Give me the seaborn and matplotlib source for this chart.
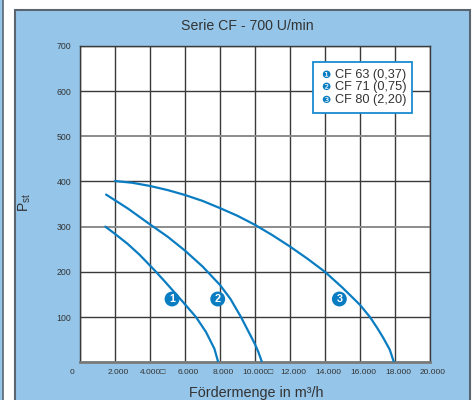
import numpy as np
import pandas as pd
import matplotlib
matplotlib.use('Agg')
import matplotlib.pyplot as plt
import matplotlib.transforms as mtransforms
from matplotlib.patches import Rectangle
import seaborn as sns

# fan curves (volume flow in m3/h, static pressure)
cf63_flow = [1450, 2000, 2720, 3400, 4000, 4250, 4910, 5960, 6630, 7200, 7680, 7900]
cf63_pst = [300, 284, 262, 238, 214, 204, 176, 130, 100, 67, 30, 0]
cf71_flow = [1490, 2740, 4000, 5000, 6000, 7000, 8000, 8600, 9200, 9600, 10000,
             10200, 10400]
cf71_pst = [371, 340, 305, 278, 247, 212, 171, 140, 100, 70, 40, 22, 0]
cf80_flow = [2000, 3000, 4000, 5000, 6000, 7000, 8000, 9000, 10000, 11000, 12000,
             13000, 14000, 15000, 16000, 16570, 17000, 17330, 17700, 17940]
cf80_pst = [401, 397, 390, 381, 370, 357, 341, 324, 304, 281, 256, 229, 200,
            165, 127, 100, 75, 54, 28, 0]

legend_labels = ['CF 63 (0,37)', 'CF 71 (0,75)', 'CF 80 (2,20)']
badge_nums = ['1', '2', '3']
badge_flow = [5260, 7870, 14820]
badge_pst = [140, 140, 140]

xticks = list(range(0, 20001, 2000))
xtick_labels = ['0', '2.000', '4.000\u25a1', '6.000', '8.000', '10.000\u25a1',
                '12.000', '14.000', '16.000', '18.000', '20.000']
yticks = list(range(0, 701, 100))
ytick_labels = ['', '100', '200', '300', '400', '500', '600', '700']

blue = '#0a7dc2'
panel = '#95c6e9'
dark = '#333333'

sns.set_style('white')
plt.rcParams['font.family'] = ['Liberation Sans', 'DejaVu Sans']

fig = plt.figure(figsize=(4.72, 4.0), dpi=100)
fig.patch.set_facecolor('white')

# background panel and left strip
fig.patches.append(Rectangle((15 / 472, -0.05), 455 / 472, 0.975 + 0.05,
                             transform=fig.transFigure, facecolor=panel,
                             edgecolor='#5b6570', lw=1.5, zorder=-2))
fig.patches.append(Rectangle((-0.01, -0.05), 2.5 / 472 + 0.01, 1.1,
                             transform=fig.transFigure, facecolor=panel,
                             edgecolor='#5b6570', lw=1.2, zorder=-2))

ax = fig.add_axes([80 / 472, 37.7 / 400, 350 / 472, 316.5 / 400])
ax.set_zorder(1)
ax.set_facecolor('white')

curves = pd.concat([
    pd.DataFrame({'flow': cf63_flow, 'pst': cf63_pst, 'fan': legend_labels[0]}),
    pd.DataFrame({'flow': cf71_flow, 'pst': cf71_pst, 'fan': legend_labels[1]}),
    pd.DataFrame({'flow': cf80_flow, 'pst': cf80_pst, 'fan': legend_labels[2]}),
])
sns.lineplot(data=curves, x='flow', y='pst', hue='fan', sort=False,
             palette=[blue] * 3, lw=1.6, legend=False, ax=ax, zorder=3)

sns.scatterplot(x=badge_flow, y=badge_pst, s=115, color=blue,
                edgecolor='none', ax=ax, zorder=4)
for n, bx, by in zip(badge_nums, badge_flow, badge_pst):
    ax.text(bx, by, n, color='white', fontsize=7.8, fontweight='bold',
            ha='center', va='center', zorder=5)

ax.set_xlim(0, 20000)
ax.set_ylim(0, 700)
ax.set_xticks(xticks)
ax.set_xticklabels(xtick_labels)
ax.set_yticks(yticks)
ax.set_yticklabels(ytick_labels)
ax.set_xlabel('')
ax.set_ylabel('')
ax.grid(True, color='#3a3a3a', lw=1)
for i in (3, 5):
    ax.get_ygridlines()[i].set_color('#8c8c8c')
    ax.get_ygridlines()[i].set_linewidth(1.4)

ax.tick_params(axis='x', direction='in', length=4, width=1.6, color='#222222',
               pad=5, labelsize=6, labelcolor=dark)
ax.tick_params(axis='y', length=0, pad=6.5, labelsize=6.3, labelcolor=dark)
for i, lab in enumerate(ax.get_xticklabels()):
    dx = -8 if i == 0 else 3
    lab.set_transform(lab.get_transform() +
                      mtransforms.ScaledTranslation(dx / 100, 0, fig.dpi_scale_trans))

for side in ('left', 'top', 'right'):
    ax.spines[side].set_color('#3a3a3a')
    ax.spines[side].set_linewidth(1)
ax.spines['bottom'].set_color('#7a7a7a')
ax.spines['bottom'].set_linewidth(2)

# legend box
ax.add_patch(Rectangle((0.665, 0.788), 0.283, 0.16, transform=ax.transAxes,
                       facecolor='white', edgecolor='#1a8ad0', lw=1.3, zorder=6))
for i, (n, lab) in enumerate(zip(['\u2776', '\u2777', '\u2778'], legend_labels)):
    yy = 0.908 - i * 0.039
    ax.text(0.703, yy, n, transform=ax.transAxes, color=blue, fontsize=7.5,
            family='DejaVu Sans', ha='center', va='center', zorder=7)
    ax.text(0.728, yy, lab, transform=ax.transAxes, color=dark, fontsize=9.2,
            ha='left', va='center', zorder=7)

fig.text(247 / 472, 1 - 26 / 400, 'Serie CF - 700 U/min', ha='center',
         va='center', fontsize=10.2, color=dark)
fig.text(256 / 472, 3 / 400, 'Fördermenge in m³/h', ha='center',
         va='baseline', fontsize=10.4, color=dark)
fig.text(25 / 472, 1 - 203 / 400, r'$\mathregular{P_{st}}$', rotation=90,
         ha='center', va='center', fontsize=10, color=dark)

fig.savefig('out.png', dpi=100)
